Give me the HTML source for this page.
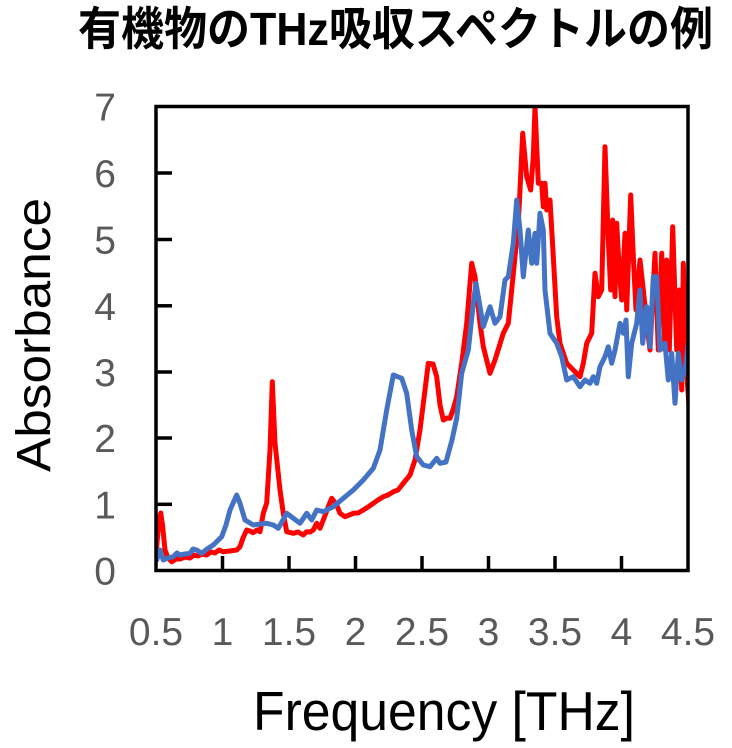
<!DOCTYPE html>
<html>
<head>
<meta charset="utf-8">
<style>
  html,body{margin:0;padding:0;background:#fff;}
  svg{display:block;}
</style>
</head>
<body>
<svg width="732" height="748" viewBox="0 0 732 748" xmlns="http://www.w3.org/2000/svg">
  <rect width="732" height="748" fill="#fff"/>
  <!-- Title -->
  <text x="78" y="45" font-family="'Liberation Sans','Noto Sans CJK JP',sans-serif" font-weight="bold" font-size="46" fill="#000" textLength="635" lengthAdjust="spacingAndGlyphs">有機物のTHz吸収スペクトルの例</text>

  <defs>
    <clipPath id="pa"><rect x="156" y="106.5" width="532" height="464"/></clipPath>
  </defs>

  <g clip-path="url(#pa)" fill="none" stroke-linejoin="round" stroke-linecap="round" stroke-width="5">
    <polyline stroke="#FF0000" points="156.7,546.7 158.5,525 160.7,513 162.5,525 165,550 168,558 171.7,561.7 176,559 180,559 185,557 190,558 194,555 198,556 202,554 206.7,555 211,552 215,553 219,550 223,551.7 230,551 236.7,550 240,546.7 243,538 246.7,530 250,531 253,532.7 257,530 260,531.7 263.3,513.3 266.7,503 270,450 272.3,381.7 275,443 280,490 283.3,513.3 286.7,531.7 293.3,533.3 298,532 303.3,535 306.7,531.7 310,532 313.3,530 316.7,523.3 320,528.3 323.3,520 328.3,506.7 331.7,498.3 336.7,505 340,513.3 345,516.7 353.3,513.3 358,513 363.3,510 368,507 373.3,503.3 378,500 383.3,496.7 388,495 393.3,491.7 398,490 403.3,483.3 410,475 415,460 420,430 425,390 428.3,363.3 433,364 436.7,376.7 440,405 443.3,420 447,418 450,418.3 453,410 456.7,396.7 461.7,363.3 466.7,323.3 471.7,263.3 475,276.7 480,323.3 483.3,346.7 490,373.3 495,360 503.3,333.3 508.3,323.3 511.7,290 515,256.7 518.3,223.3 520,190 522.7,133.3 526.7,176.7 530.7,190 533.3,156.7 535,106.7 538.3,183.3 541.7,183.3 543.3,206.7 545,183.3 546.7,210 550,200 553.3,256.7 556.7,316.7 560,343.3 566.7,363.3 573.3,370 580,376.7 583.3,363.3 586.7,343.3 591.7,333.3 595,273.3 598.3,296.7 601.7,290 605,146.7 608.3,240 610.7,290 612.7,220 615,296.7 616.7,223.3 619.3,270 621.7,300 625,233.3 626.7,310 630.7,195 633.3,256.7 636,310 640,260 643.3,290 646.7,323.3 650,350 655,253.3 658.3,350 661.7,253.3 665,350 666.7,260 669.3,350 672.7,226.7 676.7,350 679.3,290 681.7,390 683.3,263.3 686.7,373.3 689.3,410"/>
    <polyline stroke="#4472C4" points="156.7,560 160,550 163.3,560 168,558 173.3,556.7 177,553 180,555 185,554 190,553.3 193,549 196.7,550 201.7,553.3 207,549 213.3,545 221.7,536.7 226,525 230,510 236.7,495 240,503.3 245,520 253.3,525 260,524 266.7,523.3 273.3,525 278.3,528.3 286.7,513.3 293.3,518.3 300,523.3 306.7,513.3 311.7,520 316.7,510 323.3,511.7 333.3,506.7 343.3,498.3 353.3,490 363.3,480 373.3,468.3 380,450 386.7,410 393.3,375 401.7,378.3 406.7,393.3 411.7,430 416.7,456.7 423.3,465 430,466.7 436.7,458.3 440,463.3 446,462 452,440 456.7,418.3 461.7,373.3 468.3,350 473.3,303.3 476,283.3 480,306.7 483.3,326.7 490,306.7 495,323.3 500,316.7 505,280 508.3,276.7 513.3,243.3 516.7,200 520,230 523.3,276.7 528.3,230 531.7,263.3 535,233.3 536.7,263.3 540,213.3 543.3,230 545,290 550,333.3 556.7,343.3 561.7,356.7 566.7,380 573.3,376.7 580,386.7 585,380 590,383.3 593.3,376.7 596.7,383.3 600,366.7 605,356.7 608.3,346.7 611.7,363.3 615,350 620,323.3 623.3,333.3 626,320 628.3,376.7 631.7,343.3 636.7,323.3 640,290 642.7,343.3 646.7,306.7 650,346.7 653.3,276.7 656.7,276.7 660,350 665,343.3 668.3,380 671.7,353.3 675,403.3 678.3,353.3 681.7,380 685,370 688.3,343.3 690,376.7"/>
  </g>

  <!-- Frame -->
  <rect x="156" y="106.5" width="532" height="464" fill="none" stroke="#000" stroke-width="3.5"/>
  <!-- Ticks -->
  <g stroke="#000" stroke-width="3.5">
    <line x1="156" y1="173" x2="172" y2="173"/>
    <line x1="156" y1="239.5" x2="172" y2="239.5"/>
    <line x1="156" y1="305.8" x2="172" y2="305.8"/>
    <line x1="156" y1="372" x2="172" y2="372"/>
    <line x1="156" y1="438" x2="172" y2="438"/>
    <line x1="156" y1="504.3" x2="172" y2="504.3"/>
    <line x1="222.5" y1="570.5" x2="222.5" y2="556"/>
    <line x1="289" y1="570.5" x2="289" y2="556"/>
    <line x1="355.5" y1="570.5" x2="355.5" y2="556"/>
    <line x1="422" y1="570.5" x2="422" y2="556"/>
    <line x1="488.5" y1="570.5" x2="488.5" y2="556"/>
    <line x1="555" y1="570.5" x2="555" y2="556"/>
    <line x1="621.5" y1="570.5" x2="621.5" y2="556"/>
  </g>

  <!-- Y tick labels -->
  <g font-family="'Liberation Sans',sans-serif" font-size="39" fill="#595959" text-anchor="end">
    <text x="116" y="120.5">7</text>
    <text x="116" y="187">6</text>
    <text x="116" y="253.5">5</text>
    <text x="116" y="319.8">4</text>
    <text x="116" y="386">3</text>
    <text x="116" y="452">2</text>
    <text x="116" y="518.3">1</text>
    <text x="116" y="584.5">0</text>
  </g>
  <!-- X tick labels -->
  <g font-family="'Liberation Sans',sans-serif" font-size="39" fill="#595959" text-anchor="middle">
    <text x="156" y="645">0.5</text>
    <text x="222.5" y="645">1</text>
    <text x="289" y="645">1.5</text>
    <text x="355.5" y="645">2</text>
    <text x="422" y="645">2.5</text>
    <text x="488.5" y="645">3</text>
    <text x="555" y="645">3.5</text>
    <text x="621.5" y="645">4</text>
    <text x="688" y="645">4.5</text>
  </g>

  <!-- Axis titles -->
  <text transform="translate(50,335) rotate(-90)" text-anchor="middle" font-family="'Liberation Sans',sans-serif" font-size="48" fill="#000" textLength="274" lengthAdjust="spacingAndGlyphs">Absorbance</text>
  <text x="444" y="730" text-anchor="middle" font-family="'Liberation Sans',sans-serif" font-size="55" fill="#000" textLength="382" lengthAdjust="spacingAndGlyphs">Frequency [THz]</text>
</svg>
</body>
</html>
